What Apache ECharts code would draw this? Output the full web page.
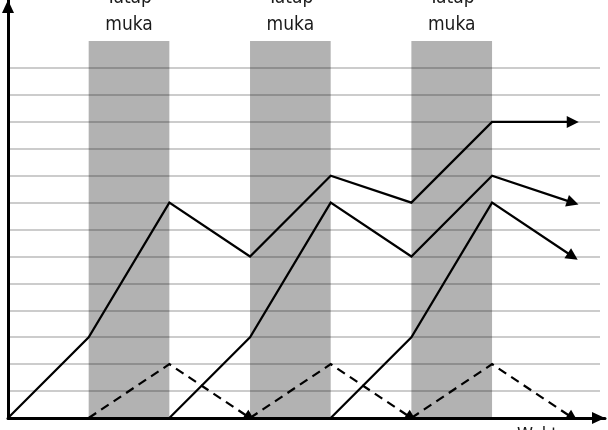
<!DOCTYPE html>
<html>
<head>
<meta charset="utf-8">
<script src="https://cdn.jsdelivr.net/npm/echarts@6/dist/echarts.min.js"></script>
<style>html,body{margin:0;padding:0;background:#fff}#c{width:608px;height:430px}</style>
</head>
<body>
<div id="c"></div>
<script>
// ---- data ----
var bandLabel = 'Tatap\nmuka';
var bandStarts = [1, 3, 5];      // each band spans one period
var bandTop = 14;
var gridLevels = 13;             // horizontal guide lines 1..13
var xLabel = 'Waktu';

var line1X = [0, 1, 2, 3, 4, 5, 6, 7];
var line1Y = [0, 3, 8, 6, 9, 8, 11, 11];
var line2X = [2, 3, 4, 5, 6, 7];
var line2Y = [0, 3, 8, 6, 9, 8];
var line3X = [4, 5, 6, 7];
var line3Y = [0, 3, 8, 6];
var dash1X = [1, 2, 3];
var dash2X = [3, 4, 5];
var dash3X = [5, 6, 7];
var dashY = [0, 2, 0];

function pts(xs, ys) { return xs.map(function (x, i) { return [x, ys[i]]; }); }
function lastSeg(p) { return p.slice(p.length - 2); }

var solidLines = [pts(line1X, line1Y), pts(line2X, line2Y), pts(line3X, line3Y)];
var dashLines = [pts(dash1X, dashY), pts(dash2X, dashY), pts(dash3X, dashY)];

var chart = echarts.init(document.getElementById('c'), null, {renderer: 'canvas'});
var font = 'DejaVu Sans Condensed, DejaVu Sans';

var solidStyle = {color: '#000', width: 2.2, type: 'solid', opacity: 1};
var dashStyle = {color: '#000', width: 2.2, type: [9, 6], opacity: 1};

function bodySeries(list, style) {
  return {
    type: 'lines', coordinateSystem: 'cartesian2d', xAxisIndex: 0, yAxisIndex: 0,
    polyline: true, symbol: 'none', silent: true, lineStyle: style,
    data: list.map(function (p) { return {coords: p}; })
  };
}
function headSeries(list) {
  return {
    type: 'lines', coordinateSystem: 'cartesian2d', xAxisIndex: 0, yAxisIndex: 0,
    polyline: false, symbol: ['none', 'triangle'], symbolSize: [11, 12],
    symbolOffset: [0, [0, 6]], silent: true,
    lineStyle: {color: '#000', width: 0, type: 'solid', opacity: 1},
    data: list.map(function (p) { return {coords: lastSeg(p)}; })
  };
}

chart.setOption({
  animation: false,
  backgroundColor: '#fff',
  title: {
    text: xLabel, left: 517, top: 426, padding: 0,
    textStyle: {fontFamily: font, fontSize: 18, fontWeight: 'normal', color: '#1a1a1a'}
  },
  grid: [
    {left: 8, right: 3, top: 0, bottom: 12, containLabel: false},
    {left: 8, right: 8, top: 68, bottom: 12, containLabel: false}
  ],
  xAxis: [
    {type: 'value', gridIndex: 0, min: 0, max: 7.4,
     axisLine: {show: true, onZero: false, symbol: ['none', 'triangle'], symbolSize: [12, 13],
                symbolOffset: [0, -6.5],
                lineStyle: {color: '#000', width: 3}},
     axisTick: {show: false}, axisLabel: {show: false}, splitLine: {show: false}},
    {type: 'value', gridIndex: 1, min: 0, max: 1, show: false}
  ],
  yAxis: [
    {type: 'value', gridIndex: 0, min: 0, max: 418 / 26.92,
     axisLine: {show: true, onZero: false, symbol: ['none', 'triangle'], symbolSize: [12, 13],
                symbolOffset: [0, -6.5],
                lineStyle: {color: '#000', width: 3}},
     axisTick: {show: false}, axisLabel: {show: false}, splitLine: {show: false}},
    {type: 'value', gridIndex: 1, min: 0, max: gridLevels, interval: 1,
     axisLine: {show: false}, axisTick: {show: false}, axisLabel: {show: false},
     splitLine: {show: true, lineStyle: {color: 'rgba(0,0,0,0.2)', width: 2}}}
  ],
  series: [
    {
      type: 'line', xAxisIndex: 0, yAxisIndex: 0, data: [], silent: true,
      markArea: {
        silent: true,
        itemStyle: {color: 'rgba(0,0,0,0.3)'},
        label: {show: true, position: 'top', distance: 3, formatter: bandLabel,
                fontFamily: font, fontSize: 19, lineHeight: 27, color: '#1a1a1a'},
        data: bandStarts.map(function (s) {
          return [{xAxis: s, yAxis: 0}, {xAxis: s + 1, yAxis: bandTop}];
        })
      }
    },
    bodySeries(solidLines, solidStyle),
    bodySeries(dashLines, dashStyle),
    headSeries(solidLines),
    headSeries(dashLines)
  ]
});
</script>
</body>
</html>
